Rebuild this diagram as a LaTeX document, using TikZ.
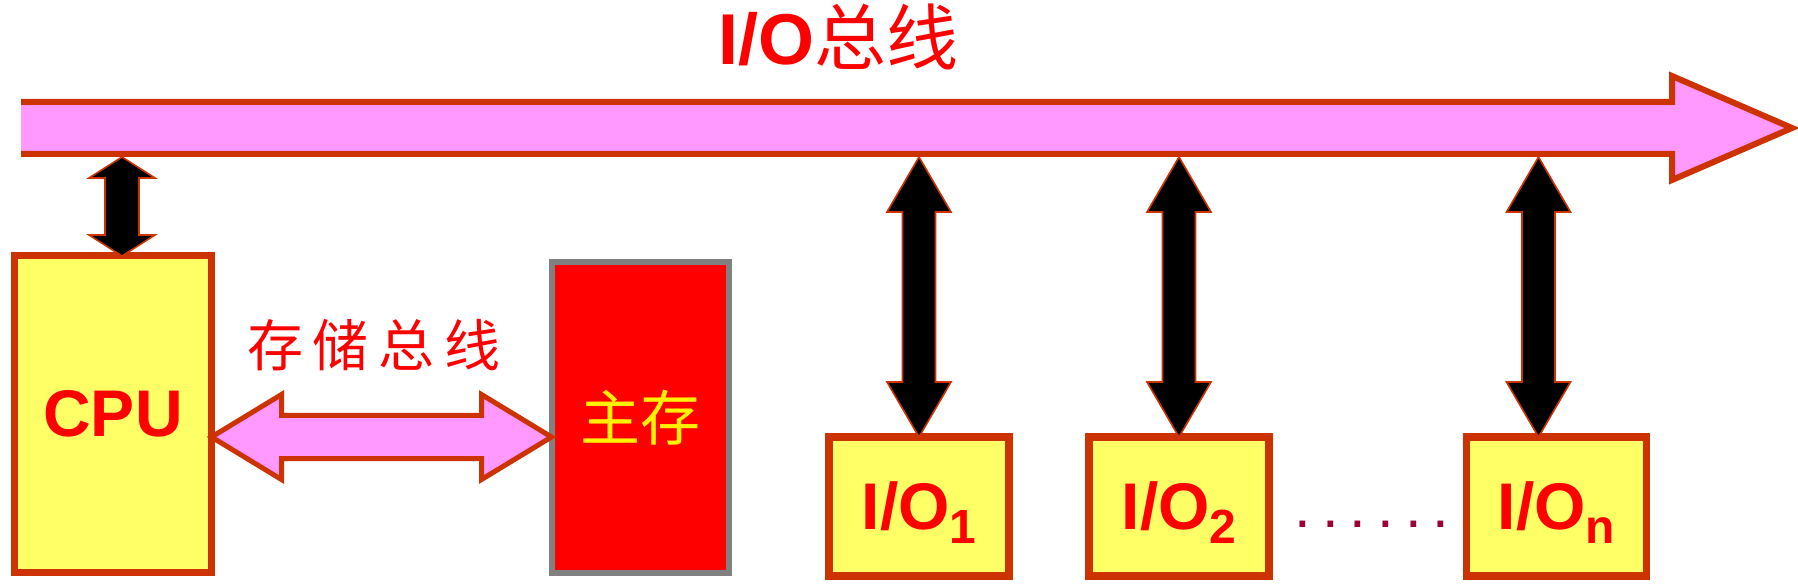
\documentclass[tikz,border=0pt]{standalone}
\usepackage{fontspec}
\setmainfont{Liberation Sans}
\newfontfamily\cjk{Noto Sans CJK SC}
\usetikzlibrary{calc}

\definecolor{busfill}{RGB}{255,153,255}
\definecolor{outl}{RGB}{204,51,0}
\definecolor{yel}{RGB}{255,255,102}
\definecolor{memgray}{RGB}{128,128,128}
\definecolor{dotred}{RGB}{153,0,51}

% block arrow with two heads, vertical: style, lower end, upper end, shaft/2, head/2, head length
\newcommand{\vbiarrow}[6]{%
  \draw[#1] let \p1=(#2), \p2=(#3) in
    (\x1,\y1) -- (\x1+#5,\y1+#6) -- (\x1+#4,\y1+#6) -- (\x1+#4,\y2-#6)
    -- (\x1+#5,\y2-#6) -- (\x1,\y2) -- (\x1-#5,\y2-#6) -- (\x1-#4,\y2-#6)
    -- (\x1-#4,\y1+#6) -- (\x1-#5,\y1+#6) -- cycle;}
% same, horizontal: style, left end, right end, shaft/2, head/2, head length
\newcommand{\hbiarrow}[6]{%
  \draw[#1] let \p1=(#2), \p2=(#3) in
    (\x1,\y1) -- (\x1+#6,\y1+#5) -- (\x1+#6,\y1+#4) -- (\x2-#6,\y1+#4)
    -- (\x2-#6,\y1+#5) -- (\x2,\y1) -- (\x2-#6,\y1-#5) -- (\x2-#6,\y1-#4)
    -- (\x1+#6,\y1-#4) -- (\x1+#6,\y1-#5) -- cycle;}

\begin{document}
\begin{tikzpicture}[x=0.5pt, y=-0.5pt,
    unit/.style={draw=outl, fill=yel, line width=3.75pt, outer sep=0pt, inner sep=0pt,
      text=red, font=\bfseries\fontsize{33}{33}\selectfont},
    blk/.style={fill=black, draw=outl, line width=0.8pt, line join=miter},
    fat/.style={fill=busfill, draw=outl, line width=2.5pt, line join=miter}]
    \useasboundingbox (0,0) rectangle (1798,587);

    % I/O bus
    \fill[busfill] (21,102) -- (1672,102) -- (1672,76) -- (1792,128) -- (1672,180) -- (1672,154) -- (21,154) -- cycle;
    \draw[outl, line width=3pt, line join=miter] (21,102) -- (1672,102) -- (1672,76) -- (1792,128) -- (1672,180) -- (1672,154) -- (21,154);
    \coordinate (busbot) at (0,157);
    \node[text=red, anchor=base, inner sep=0pt] (title) at (838,65)
        {\fontsize{36}{36}\selectfont\bfseries I/O{\mdseries\cjk 总线}};

    % CPU and main memory
    \node[unit, line width=3.5pt, minimum width=98.5pt, minimum height=158pt] (cpu) at (113,414) {CPU};
    \node[draw=memgray, fill=red, line width=3pt, outer sep=0pt, minimum width=88.5pt, minimum height=155.5pt,
        text=yellow, font=\cjk\fontsize{30}{30}\selectfont] (mem) at (640,417.5) {主存};

    % memory bus
    \coordinate (sb) at (0,437);
    \hbiarrow{fat}{cpu.east |- sb}{mem.west |- sb}{10.75pt}{21.25pt}{35pt}
    \node[text=red, inner sep=0pt, font=\cjk\fontsize{28}{28}\selectfont] (sblabel) at (374,345)
        {存\hspace{5pt}储\hspace{5pt}总\hspace{5pt}线};

    % I/O modules
    \foreach \nm/\px/\sub in {io1/919/1, io2/1179/2, ion/1556.5/n}
        \node[unit, minimum width=90pt, minimum height=69.5pt] (\nm) at (\px,506.5)
            {I/O\raisebox{-7pt}[0pt][0pt]{\fontsize{24}{24}\selectfont\sub}};
    \node[text=dotred, inner sep=0pt, anchor=base, font=\fontsize{30}{30}\selectfont] (dots) at (1372,527)
        {.\hspace{5.5pt}.\hspace{5.5pt}.\hspace{5.5pt}.\hspace{5.5pt}.\hspace{5.5pt}.};

    % links to the bus
    \vbiarrow{blk}{$(cpu.north)+(9,0)$}{busbot}{8.5pt}{16.5pt}{10.5pt}
    \foreach \nm/\dx in {io1/0, io2/0, ion/-18}{
        \vbiarrow{blk}{$(\nm.north)+(\dx,0)$}{busbot}{8.25pt}{16pt}{27.5pt}
    }
\end{tikzpicture}
\end{document}
